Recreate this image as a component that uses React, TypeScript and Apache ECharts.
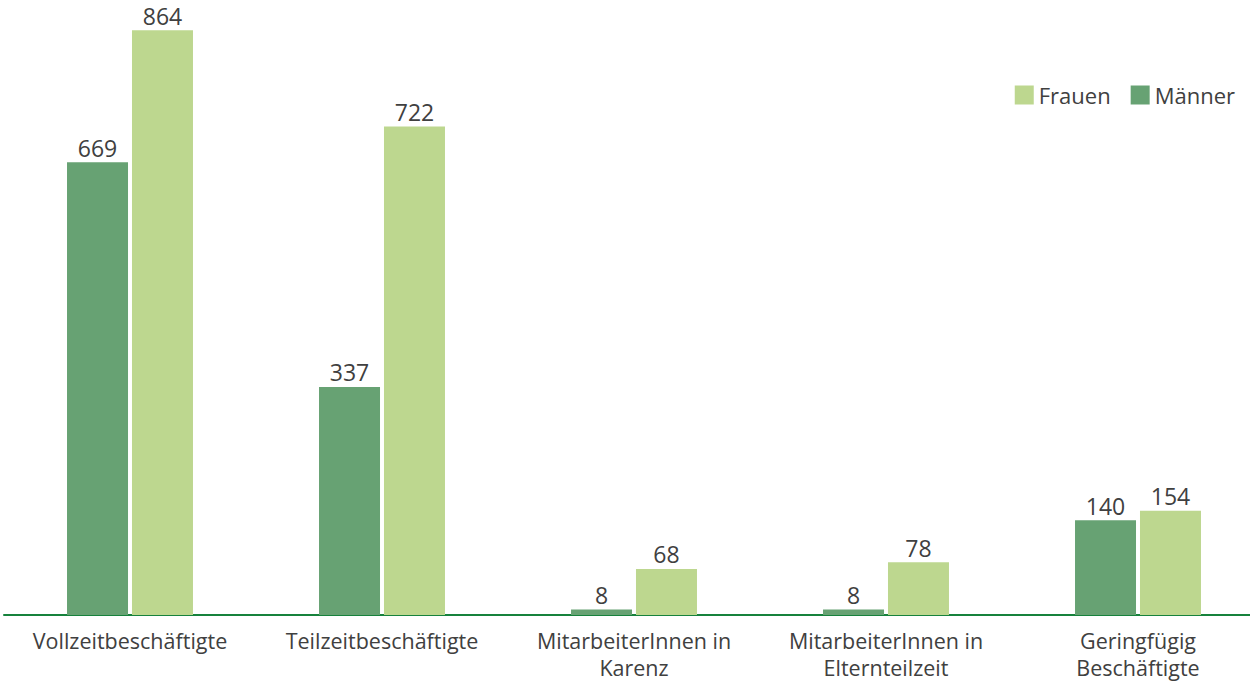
import React, { useEffect, useRef } from "react";
import * as echarts from "echarts";

const categories = [
  "Vollzeitbeschäftigte",
  "Teilzeitbeschäftigte",
  "MitarbeiterInnen in\nKarenz",
  "MitarbeiterInnen in\nElternteilzeit",
  "Geringfügig\nBeschäftigte",
];
const maenner = [669, 337, 8, 8, 140];
const frauen = [864, 722, 68, 78, 154];

const FONT = "'Open Sans', 'Noto Sans', sans-serif";

export default function App() {
  const ref = useRef<HTMLDivElement>(null);
  useEffect(() => {
    if (!ref.current) return;
    const chart = echarts.init(ref.current, undefined, { renderer: "svg" });
    const label = {
      show: true,
      position: "top",
      distance: 3,
      fontSize: 23,
      color: "#404040",
      fontFamily: FONT,
    };
    chart.setOption({
      animation: false,
      textStyle: { fontFamily: FONT },
      legend: {
        data: ["Frauen", "Männer"],
        top: 84,
        right: 35,
        padding: 0,
        itemWidth: 19,
        itemHeight: 19,
        itemGap: 20,
        icon: "rect",
        textStyle: { fontSize: 22, color: "#404040", fontFamily: FONT },
      },
      grid: { left: 4, right: 6, top: 6, bottom: 67, containLabel: false },
      xAxis: {
        type: "category",
        data: categories,
        axisLine: { show: true, lineStyle: { color: "#16823c", width: 2 } },
        axisTick: { show: false },
        axisLabel: {
          interval: 0,
          fontSize: 21.5,
          color: "#404040",
          lineHeight: 27,
          margin: 12,
          fontFamily: FONT,
        },
      },
      yAxis: {
        type: "value",
        min: 0,
        max: 900,
        show: false,
        splitLine: { show: false },
      },
      series: [
        {
          name: "Männer",
          type: "bar",
          data: maenner,
          barWidth: 61,
          barGap: "6.5%",
          itemStyle: { color: "#67a273" },
          label,
        },
        {
          name: "Frauen",
          type: "bar",
          data: frauen,
          barWidth: 61,
          barGap: "6.5%",
          itemStyle: { color: "#bdd78f" },
          label,
        },
      ],
    });
    return () => chart.dispose();
  }, []);
  return (
    <div style={{ position: "absolute", left: 0, top: 0, width: 1250, height: 682, overflow: "hidden", background: "#fff" }}>
      <div ref={ref} style={{ width: 1270, height: 682 }} />
    </div>
  );
}
